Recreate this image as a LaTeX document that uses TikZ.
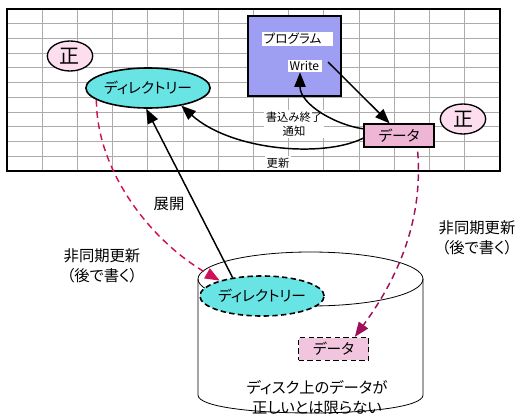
\documentclass[tikz,border=0pt]{standalone}
\usepackage{fontspec}
\setmainfont{Noto Sans CJK JP}[RawFeature={+palt}]
\usetikzlibrary{positioning,arrows.meta,shapes.geometric}

\definecolor{progblue}{RGB}{158,158,242}
\definecolor{dircyan}{RGB}{105,228,228}
\definecolor{datapink}{RGB}{238,182,212}
\definecolor{seipink}{RGB}{252,222,238}
\definecolor{asyncred}{RGB}{208,16,90}
\definecolor{asyncplum}{RGB}{160,16,90}

\begin{document}
\begin{tikzpicture}[x=0.75pt, y=-0.75pt,
    arr/.style={-{Triangle[length=11pt,width=8.5pt]}, line width=1.1pt},
    asyncarr/.style={-{Triangle[length=11pt,width=8.5pt]}, line width=1.1pt, dash pattern=on 5pt off 3.5pt},
    dirnode/.style={draw, ellipse, fill=dircyan, line width=1.2pt, inner sep=0pt,
      minimum width=88.5pt, minimum height=30pt, font=\fontsize{11}{13}\selectfont},
    datanode/.style={draw, rectangle, fill=datapink, line width=1.2pt, inner sep=0pt,
      minimum width=52.5pt, minimum height=17pt, font=\fontsize{11}{13}\selectfont},
    seinode/.style={draw, ellipse, fill=seipink, line width=1pt, inner sep=0pt,
      minimum width=34pt, minimum height=22.5pt, font=\fontsize{15}{17}\selectfont},
    note/.style={fill=white, inner sep=1pt, align=center, font=\fontsize{8.5}{11}\selectfont},
    caption/.style={align=center, inner sep=0pt, font=\fontsize{11.5}{15}\selectfont}]
  \useasboundingbox (0,0) rectangle (518,414);

  % Memory grid
  \foreach \i in {1,...,13}
    \draw[gray!65, line width=0.8pt] (7+\i*35.214,9) -- (7+\i*35.214,171);
  \foreach \j in {1,...,10}
    \draw[gray!65, line width=0.8pt] (7,9+\j*14.727) -- (500,9+\j*14.727);
  \draw[line width=1.5pt] (7,9) rectangle (500,171);

  % Disk
  \draw[fill=white, line width=0.6pt] (198,279) -- (198,395)
    .. controls (198,419) and (423,419) .. (423,395) -- (423,279);
  \draw[line width=0.6pt] (310.5,279) ellipse [x radius=112.5, y radius=27];

  % Program
  \node [draw, rectangle, fill=progblue, line width=1.2pt, minimum width=69.75pt,
    minimum height=60pt] (prog) at (294.5,56) {};
  \node [note, anchor=west, text width=51pt, align=left, font=\fontsize{9.5}{11}\selectfont]
    (progname) at (262,39) {プログラム};
  \node [note, anchor=west, font=\fontsize{9}{11}\selectfont] (write) at (288,66) {Write\,};

  % Nodes in memory
  \node [seinode] (sei1) at (70,56) {正};
  \node [dirnode] (dir) at (148,88) {ディレクトリー};
  \node [datanode] (data) at (399,135.5) {データ};
  \node [seinode] (sei2) at (463,119) {正};

  % Nodes on disk
  \node [dirnode, dashed, dash pattern=on 4pt off 2.5pt] (diskdir) at (262,296) {ディレクトリー};
  \node [datanode, fill=datapink!80, dash pattern=on 4pt off 2.5pt] (diskdata) at (333.5,349) {データ};

  % Labels
  \node [note] (donelabel) at (294,124) {書込み終了\\通知};
  \node [note] (updlabel) at (278,163) {更新};
  \node [caption] (expandlabel) at (169,204) {展開};
  \node [caption] (asynclabel1) at (102,266) {非同期更新\\（後で書く）};
  \node [caption] (asynclabel2) at (477,238) {非同期更新\\（後で書く）};
  \node [caption] (disklabel) at (317,398) {ディスク上のデータが\\正しいとは限らない};

  % Arrows
  \draw[arr] ([xshift=4pt,yshift=3pt]write.east) -- ([xshift=-7pt]data.north);
  \draw[arr] ([yshift=5pt]data.west) .. controls +(-28,-4) and +(0,32) .. ([xshift=-4pt]write.south);
  \draw[arr] ([yshift=-2pt]data.west) .. controls +(-40,20) and +(50,45) .. (dir.-28);
  \draw[arr] (diskdir.148) -- (dir.-95);
  \draw[asyncarr, asyncred] (dir.193) .. controls +(0,70) and +(-70,-40) .. (diskdir.160);
  \draw[asyncarr, asyncplum] ([xshift=14pt,yshift=-3pt]data.south)
    .. controls +(6,75) and +(38,-52) .. ([xshift=16pt]diskdata.north);
\end{tikzpicture}
\end{document}
